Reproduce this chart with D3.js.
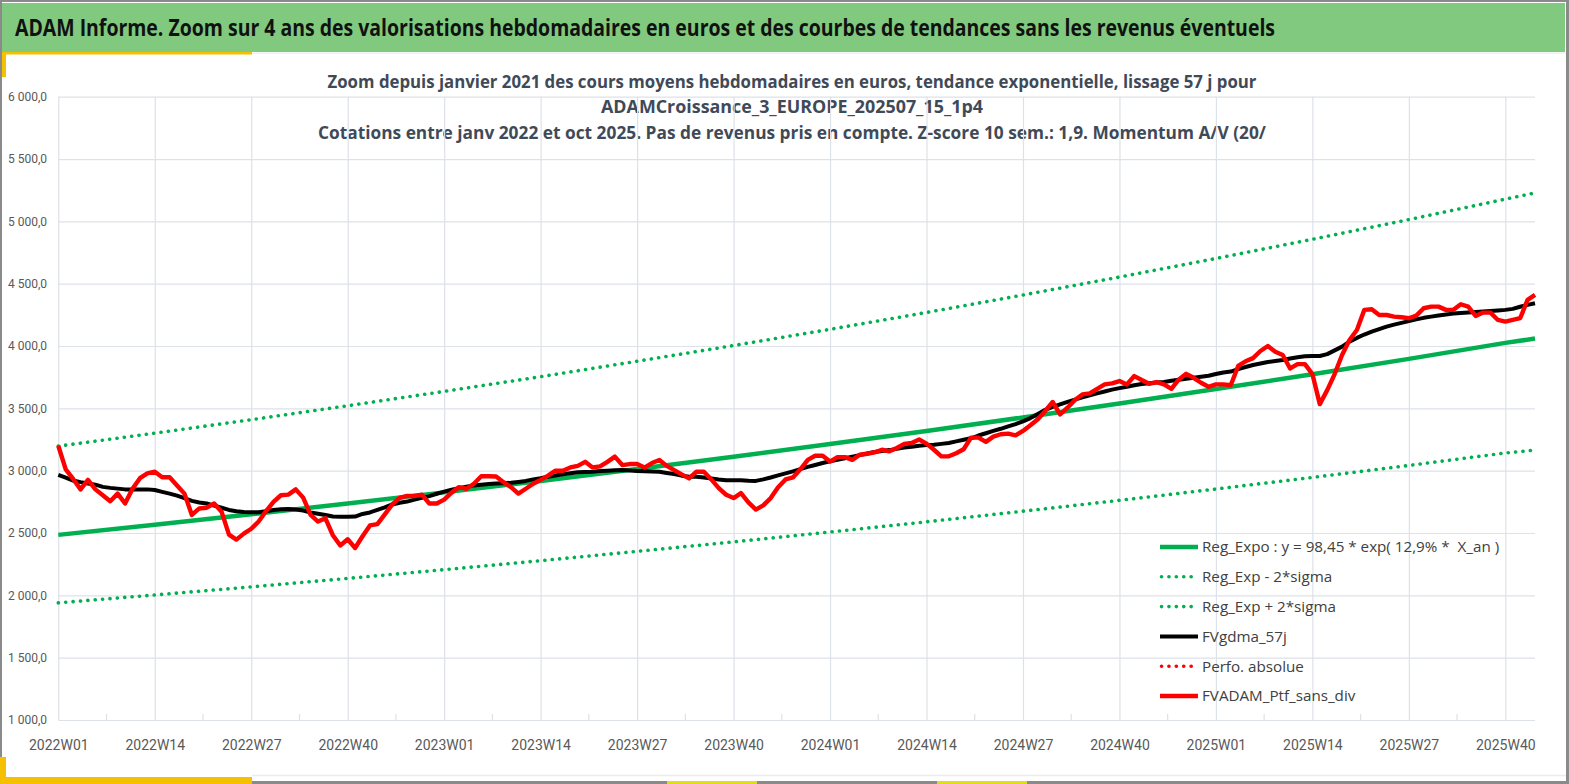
<!DOCTYPE html>
<html>
<head>
<meta charset="utf-8">
<script src="https://cdn.jsdelivr.net/npm/d3@7"></script>
<style>
  html, body { margin: 0; padding: 0; background: #fff; }
  svg { display: block; }
</style>
</head>
<body>
<div id="graf"></div>
<script>
// --- donnees ---
years = [2022, 2023, 2024, 2025]
weeksPerYear = [52, 52, 52, 44]

tickLabels = ['2022W01', '2022W14', '2022W27', '2022W40',
              '2023W01', '2023W14', '2023W27', '2023W40',
              '2024W01', '2024W14', '2024W27', '2024W40',
              '2025W01', '2025W14', '2025W27', '2025W40']

yTicks = [1000, 1500, 2000, 2500, 3000, 3500, 4000, 4500, 5000, 5500, 6000]

// tendance expo, lue aux semaines reperes
trendWeeks = ['2022W01', '2022W14', '2022W27', '2022W40',
              '2023W01', '2023W14', '2023W27', '2023W40',
              '2024W01', '2024W14', '2024W27', '2024W40',
              '2025W01', '2025W14', '2025W27', '2025W40', '2025W44']
regExpo  = [2485, 2566, 2650, 2737, 2826, 2918, 3014, 3112, 3214, 3319, 3427, 3539, 3655, 3774, 3897, 4025, 4060]
regMinus = [1940, 2003, 2068, 2136, 2206, 2278, 2353, 2429, 2508, 2590, 2675, 2762, 2853, 2946, 3042, 3142, 3165]
regPlus  = [3197, 3301, 3409, 3521, 3636, 3754, 3878, 4004, 4134, 4269, 4409, 4553, 4702, 4856, 5014, 5178, 5228]

// moyenne mobile 57 j (une valeur par semaine)
fvgdma = [
  2966, 2945, 2921, 2908, 2897, 2888, 2870, 2862, 2856, 2850,
  2850, 2850, 2850, 2845, 2830, 2816, 2800, 2780, 2758, 2745,
  2737, 2720, 2703, 2685, 2674, 2668, 2666, 2666, 2675, 2684,
  2690, 2692, 2688, 2680, 2665, 2655, 2645, 2632, 2630, 2630,
  2632, 2653, 2665, 2685, 2705, 2729, 2742, 2752, 2768, 2782,
  2796, 2815, 2832, 2848, 2860, 2872, 2882, 2888, 2893, 2897,
  2900, 2903, 2910, 2918, 2930, 2940, 2952, 2962, 2972, 2980,
  2987, 2990, 2992, 2997, 3000, 3004, 3005, 3002, 2998, 2995,
  2993, 2992, 2982, 2973, 2960, 2951, 2951, 2945, 2938, 2930,
  2924, 2924, 2924, 2920, 2918, 2930, 2945, 2962, 2978, 2995,
  3013, 3030, 3046, 3062, 3076, 3088, 3100, 3112, 3125, 3138,
  3150, 3158, 3165, 3175, 3185, 3192, 3200, 3205, 3208, 3215,
  3222, 3235, 3248, 3260, 3282, 3300, 3319, 3336, 3355, 3374,
  3395, 3422, 3455, 3488, 3512, 3532, 3552, 3570, 3588, 3605,
  3620, 3635, 3650, 3662, 3673, 3685, 3695, 3702, 3708, 3712,
  3722, 3730, 3738, 3745, 3753, 3762, 3775, 3788, 3795, 3815,
  3832, 3848, 3860, 3872, 3880, 3888, 3900, 3910, 3918, 3920,
  3920, 3935, 3965, 3995, 4035, 4065, 4092, 4115, 4135, 4155,
  4172, 4186, 4200, 4214, 4226, 4236, 4245, 4252, 4260, 4265,
  4268, 4272, 4276, 4280, 4285, 4290, 4298, 4315, 4330, 4343
]

// portefeuille sans dividendes (une valeur par semaine)
fvadam = [
  3200, 3010, 2934, 2850, 2926, 2850, 2803, 2755, 2816, 2737,
  2855, 2940, 2979, 2992, 2947, 2947, 2882, 2816, 2645, 2697,
  2703, 2737, 2671, 2487, 2447, 2495, 2534, 2592, 2676, 2750,
  2803, 2808, 2850, 2784, 2645, 2592, 2618, 2482, 2400, 2450,
  2380, 2474, 2561, 2571, 2650, 2729, 2782, 2797, 2797, 2808,
  2737, 2737, 2768, 2824, 2868, 2855, 2895, 2955, 2955, 2953,
  2908, 2868, 2816, 2855, 2895, 2926, 2960, 3000, 3000, 3026,
  3039, 3071, 3026, 3034, 3071, 3113, 3045, 3053, 3053, 3025,
  3061, 3085, 3038, 3005, 2970, 2938, 2992, 2992, 2930, 2860,
  2807, 2780, 2820, 2746, 2688, 2722, 2780, 2867, 2930, 2946,
  3011, 3087, 3120, 3120, 3073, 3109, 3109, 3087, 3128, 3136,
  3147, 3168, 3155, 3182, 3215, 3223, 3250, 3217, 3168, 3115,
  3115, 3140, 3172, 3265, 3265, 3231, 3273, 3292, 3297, 3284,
  3319, 3364, 3412, 3479, 3551, 3452, 3505, 3567, 3612, 3620,
  3657, 3692, 3700, 3719, 3692, 3759, 3727, 3697, 3711, 3692,
  3657, 3732, 3777, 3745, 3705, 3673, 3692, 3692, 3685, 3840,
  3877, 3903, 3960, 4000, 3954, 3928, 3820, 3855, 3855, 3775,
  3534, 3646, 3775, 3928, 4048, 4129, 4290, 4295, 4249, 4249,
  4236, 4231, 4223, 4244, 4303, 4316, 4316, 4290, 4290, 4335,
  4316, 4241, 4268, 4268, 4209, 4196, 4209, 4223, 4370, 4410
]

legendNames = ['Reg_Expo : y = 98,45 * exp( 12,9% *  X_an )', 'Reg_Exp - 2*sigma',
               'Reg_Exp + 2*sigma', 'FVgdma_57j', 'Perfo. absolue', 'FVADAM_Ptf_sans_div']

// semaines ISO en categories
weeks = []
years.forEach((yr, k) => {
  for (let w = 1; w <= weeksPerYear[k]; w++) weeks.push(yr + 'W' + String(w).padStart(2, '0'))
})

// --- mise en page ---
ancho_total = 1569
alto_total = 784

GREEN = '#00b050'
RED = '#ff0000'
GRID = '#dde1e8'

svg = d3.select('#graf').append('svg')
  .attr('width', ancho_total)
  .attr('height', alto_total)

svg.append('rect').attr('width', ancho_total).attr('height', alto_total).attr('fill', '#fff')

// bandeau vert
svg.append('rect')
  .attr('x', 2).attr('y', 3).attr('width', 1563).attr('height', 49)
  .attr('fill', '#80c97e')
svg.append('line').attr('x1', 2).attr('x2', 1566).attr('y1', 53).attr('y2', 53)
  .attr('stroke', '#e6e6e6').attr('stroke-width', 1)

svg.append('text')
  .attr('x', 15).attr('y', 36)
  .attr('font-family', 'Open Sans, sans-serif')
  .attr('font-weight', 700)
  .attr('font-size', 23.5)
  .attr('fill', '#111')
  .attr('textLength', 1260)
  .attr('lengthAdjust', 'spacingAndGlyphs')
  .text('ADAM Informe. Zoom sur 4 ans des valorisations hebdomadaires en euros et des courbes de tendances sans les revenus éventuels')

// accents jaunes et cadre
const yellow = '#f5c000'
svg.append('rect').attr('x', 0).attr('y', 52).attr('width', 252).attr('height', 2.5).attr('fill', yellow)
svg.append('rect').attr('x', 0).attr('y', 52).attr('width', 6).attr('height', 25).attr('fill', yellow)
svg.append('rect').attr('x', 0).attr('y', 757).attr('width', 6).attr('height', 27).attr('fill', yellow)
svg.append('rect').attr('x', 0).attr('y', 777).attr('width', 252).attr('height', 7).attr('fill', yellow)
svg.append('line').attr('x1', 252).attr('x2', 1566).attr('y1', 775.5).attr('y2', 775.5)
  .attr('stroke', '#ececec').attr('stroke-width', 1.5)
svg.append('rect').attr('x', 252).attr('y', 781).attr('width', 1317).attr('height', 3).attr('fill', '#8a8a8a')
svg.append('rect').attr('x', 667).attr('y', 781).attr('width', 90).attr('height', 3).attr('fill', '#e2dc1a')
svg.append('rect').attr('x', 937).attr('y', 781).attr('width', 90).attr('height', 3).attr('fill', '#e2dc1a')
svg.append('rect').attr('x', 0).attr('y', 0).attr('width', ancho_total).attr('height', 2).attr('fill', '#8a8a8a')
svg.append('rect').attr('x', 0).attr('y', 0).attr('width', 2).attr('height', 757).attr('fill', '#8a8a8a')
svg.append('rect').attr('x', 1566).attr('y', 0).attr('width', 3).attr('height', alto_total).attr('fill', '#8a8a8a')

// titre du graphique
titleLines = [
  { t: 'Zoom depuis janvier 2021 des cours moyens hebdomadaires  en euros, tendance exponentielle, lissage 57 j pour', y: 88, w: 929 },
  { t: 'ADAMCroissance_3_EUROPE_202507_15_1p4', y: 113, w: 382 },
  { t: 'Cotations entre janv 2022 et oct 2025. Pas de revenus pris en compte. Z-score 10 sem.: 1,9. Momentum A/V (20/', y: 139, w: 948 }
]
svg.append('g').selectAll('text')
  .data(titleLines)
  .enter().append('text')
  .attr('x', 792)
  .attr('y', d => d.y)
  .attr('text-anchor', 'middle')
  .attr('font-family', 'Open Sans, sans-serif')
  .attr('font-weight', 700)
  .attr('font-size', 17.5)
  .attr('fill', '#3f4a58')
  .attr('textLength', d => d.w)
  .attr('lengthAdjust', 'spacingAndGlyphs')
  .text(d => d.t)

// echelles
x = d3.scalePoint().domain(weeks).range([58.3, 1535])
y = d3.scaleLinear().domain([1000, 6000]).range([720, 96.7])

fr = d3.formatLocale({ decimal: ',', thousands: ' ', grouping: [3], currency: ['', ' €'] })
fmt = fr.format(',.1f')

g = svg.append('g')

// grille horizontale
g.append('g').attr('class', 'y grid')
  .call(d3.axisLeft(y).tickValues(yTicks).tickSize(-(1535 - 58.3)).tickFormat(''))
  .attr('transform', 'translate(58.3,0)')
  .call(s => s.select('.domain').remove())
  .call(s => s.selectAll('line').attr('stroke', GRID).attr('stroke-width', 1.2))

// grille verticale aux reperes
g.append('g').attr('class', 'x grid')
  .attr('transform', 'translate(0,720)')
  .call(d3.axisBottom(x).tickValues(tickLabels).tickSize(-(720 - 96.7)).tickFormat(''))
  .call(s => s.select('.domain').remove())
  .call(s => s.selectAll('line').attr('stroke', GRID).attr('stroke-width', 1.2))

// petites graduations intermediaires
minor = d3.pairs(tickLabels).map(p => (x(p[0]) + x(p[1])) / 2)
g.append('g').selectAll('line')
  .data(minor)
  .enter().append('line')
  .attr('x1', d => d).attr('x2', d => d)
  .attr('y1', 714).attr('y2', 720)
  .attr('stroke', GRID).attr('stroke-width', 1.2)

// etiquettes des axes
g.append('g').attr('class', 'y axis')
  .attr('transform', 'translate(50,0)')
  .call(d3.axisLeft(y).tickValues(yTicks).tickSize(0).tickFormat(fmt))
  .call(s => s.select('.domain').remove())
  .selectAll('text')
  .attr('x', -3)
  .attr('font-family', 'Roboto, sans-serif')
  .attr('font-size', 12)
  .attr('fill', '#595959')

g.append('g').attr('class', 'x axis')
  .attr('transform', 'translate(0,737)')
  .call(d3.axisBottom(x).tickValues(tickLabels).tickSize(0))
  .call(s => s.select('.domain').remove())
  .selectAll('text')
  .attr('font-family', 'Roboto, sans-serif')
  .attr('font-size', 14)
  .attr('fill', '#595959')

// courbes
const lineTrend = d3.line().x((d, i) => x(trendWeeks[i])).y(d => y(d))
const lineWeek = d3.line().x((d, i) => x(weeks[i])).y(d => y(d))

const dots = '0.1 7.3'

g.append('path').datum(regMinus)
  .attr('d', lineTrend).attr('fill', 'none')
  .attr('stroke', GREEN).attr('stroke-width', 3.6)
  .attr('stroke-linecap', 'round').attr('stroke-dasharray', dots)

g.append('path').datum(regPlus)
  .attr('d', lineTrend).attr('fill', 'none')
  .attr('stroke', GREEN).attr('stroke-width', 3.6)
  .attr('stroke-linecap', 'round').attr('stroke-dasharray', dots)

g.append('path').datum(regExpo)
  .attr('d', lineTrend).attr('fill', 'none')
  .attr('stroke', GREEN).attr('stroke-width', 4.5)
  .attr('stroke-linejoin', 'round')

g.append('path').datum(fvgdma)
  .attr('d', lineWeek).attr('fill', 'none')
  .attr('stroke', '#000').attr('stroke-width', 4)
  .attr('stroke-linejoin', 'round')

g.append('path').datum(fvadam)
  .attr('d', lineWeek).attr('fill', 'none')
  .attr('stroke', RED).attr('stroke-width', 4.4)
  .attr('stroke-linejoin', 'round')

// legende
legendStyle = [
  { c: GREEN, w: 4.5, dash: null },
  { c: GREEN, w: 3.6, dash: dots },
  { c: GREEN, w: 3.6, dash: dots },
  { c: '#000', w: 4, dash: null },
  { c: RED, w: 3.6, dash: dots },
  { c: RED, w: 4.5, dash: null }
]

legend = g.append('g').attr('class', 'legend')
  .selectAll('g')
  .data(legendNames)
  .enter().append('g')
  .attr('transform', (d, i) => 'translate(1160,' + (547 + i * 29.8) + ')')

legend.append('line')
  .attr('x1', (d, i) => legendStyle[i].dash ? 1.5 : 0)
  .attr('x2', 38)
  .attr('stroke', (d, i) => legendStyle[i].c)
  .attr('stroke-width', (d, i) => legendStyle[i].w)
  .attr('stroke-linecap', (d, i) => legendStyle[i].dash ? 'round' : 'butt')
  .attr('stroke-dasharray', (d, i) => legendStyle[i].dash)

legend.append('text')
  .attr('x', 42)
  .attr('dy', '0.35em')
  .attr('font-family', 'Open Sans, sans-serif')
  .attr('font-size', 15.2)
  .attr('fill', '#404040')
  .style('white-space', 'pre')
  .text(d => d)
</script>
</body>
</html>
